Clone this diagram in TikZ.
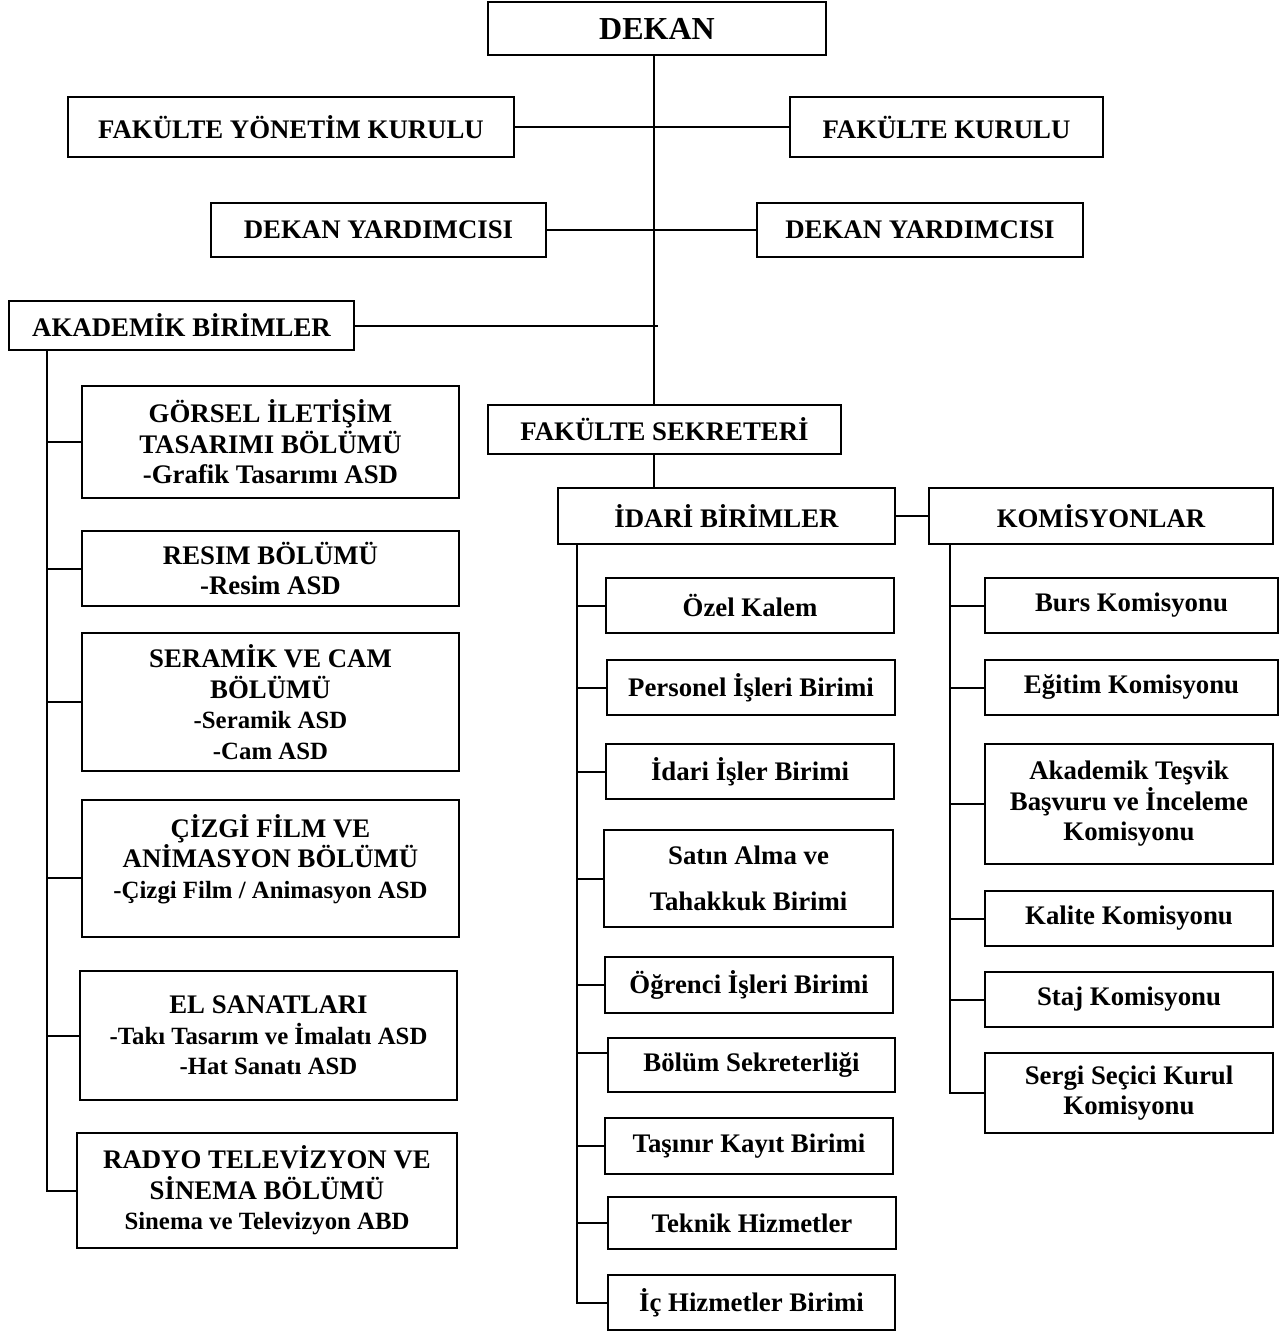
\documentclass[tikz,border=0pt]{standalone}
\usepackage{fontspec}
\setmainfont{Liberation Serif}
\usepackage{tikz}
\usetikzlibrary{positioning}
\tikzset
{
    unitbox/.style = {rectangle, draw=black, align=center, inner sep=0pt, anchor=north west, font=\bfseries\fontsize{26.8}{30.5}\selectfont},
    boxsize/.style 2 args = {minimum width=#1pt, minimum height=#2pt}
}
\newcommand{\subfont}{\fontsize{24.8}{30.5}\selectfont}

\begin{document}
\begin{tikzpicture}[x=1pt, y=-1pt, line width=2pt]
\useasboundingbox (0,0) rectangle (1288,1331);
% top of the tree
\node [unitbox, boxsize={338}{53}, font=\bfseries\fontsize{32}{36}\selectfont] at (487,1) (dekan) {DEKAN};
\node [unitbox, boxsize={446}{60}] at (67,96) (fyk) {FAKÜLTE YÖNETİM KURULU};
\node [unitbox, boxsize={313}{60}] at (789,96) (fk) {FAKÜLTE KURULU};
\node [unitbox, boxsize={335}{54}] at (210,202) (dy1) {DEKAN YARDIMCISI};
\node [unitbox, boxsize={326}{54}] at (756,202) (dy2) {DEKAN YARDIMCISI};
\node [unitbox, boxsize={345}{49}] at (8,300) (akademik) {AKADEMİK BİRİMLER};
\node [unitbox, boxsize={353}{49}] at (487,404) (sekreter) {FAKÜLTE SEKRETERİ};
\node [unitbox, boxsize={337}{56}] at (557,487) (idari) {İDARİ BİRİMLER};
\node [unitbox, boxsize={344}{56}] at (928,487) (komisyon) {KOMİSYONLAR};
\coordinate (sp) at (654,0);
\coordinate (aksp) at (47,0);
\coordinate (idsp) at (577,0);
\coordinate (kmsp) at (950,0);
% akademik birimler
\node [unitbox, boxsize={377}{112}] at (81,385) (gorsel) {GÖRSEL İLETİŞİM\\TASARIMI BÖLÜMÜ\\-Grafik Tasarımı ASD};
\node [unitbox, boxsize={377}{75}] at (81,530) (resim) {RESIM BÖLÜMÜ\\-Resim ASD};
\node [unitbox, boxsize={377}{138}] at (81,632) (seramik) {SERAMİK VE CAM\\BÖLÜMÜ\\{\subfont -Seramik ASD}\\{\subfont -Cam ASD}};
\node [unitbox, boxsize={377}{137}] at (81,799) (cizgi) {ÇİZGİ FİLM VE\\ANİMASYON BÖLÜMÜ\\{\subfont -Çizgi Film / Animasyon ASD}\\[-6pt]\mbox{}};
\node [unitbox, boxsize={377}{129}] at (79,970) (elsanat) {EL SANATLARI\\{\subfont -Takı Tasarım ve İmalatı ASD}\\{\subfont -Hat Sanatı ASD}};
\node [unitbox, boxsize={380}{115}] at (76,1132) (radyo) {RADYO TELEVİZYON VE\\SİNEMA BÖLÜMÜ\\{\subfont Sinema ve Televizyon ABD}};
% idari birimler
\node [unitbox, boxsize={288}{55}] at (605,577) (ozel) {Özel Kalem};
\node [unitbox, boxsize={288}{55}] at (606,659) (personel) {Personel İşleri Birimi};
\node [unitbox, boxsize={288}{55}] at (605,743) (idisler) {İdari İşler Birimi};
\node [unitbox, boxsize={289}{97}] at (603,829) (satin) {Satın Alma ve\\[15pt]Tahakkuk Birimi};
\node [unitbox, boxsize={288}{56}] at (604,956) (ogrenci) {Öğrenci İşleri Birimi};
\node [unitbox, boxsize={287}{54}] at (607,1037) (bolum) {Bölüm Sekreterliği};
\node [unitbox, boxsize={288}{56}] at (604,1117) (tasinir) {Taşınır Kayıt Birimi};
\node [unitbox, boxsize={288}{52}] at (607,1196) (teknik) {Teknik Hizmetler};
\node [unitbox, boxsize={287}{55}] at (607,1274) (ichiz) {İç Hizmetler Birimi};
% komisyonlar
\node [unitbox, boxsize={293}{55}] at (984,577) (burs) {Burs Komisyonu};
\node [unitbox, boxsize={293}{55}] at (984,659) (egitim) {Eğitim Komisyonu};
\node [unitbox, boxsize={288}{120}] at (984,743) (tesvik) {Akademik Teşvik\\Başvuru ve İnceleme\\Komisyonu};
\node [unitbox, boxsize={288}{55}] at (984,890) (kalite) {Kalite Komisyonu};
\node [unitbox, boxsize={288}{55}] at (984,971) (staj) {Staj Komisyonu};
\node [unitbox, boxsize={288}{80}] at (984,1052) (sergi) {Sergi Seçici Kurul\\Komisyonu};
% main lines
\draw (dekan.south -| sp) -- (sekreter.north -| sp);
\draw (fyk.east) -- (fk.west);
\draw (dy1.east) -- (dy2.west);
\draw (akademik.east) -- ([xshift=4pt]akademik.east -| sp);
\draw (sekreter.south -| sp) -- (idari.north -| sp);
\draw (idari.east) -- (komisyon.west);
% akademik branch
\draw (akademik.south -| aksp) |- (radyo.west);
\draw (gorsel.west -| aksp) -- (gorsel.west);
\draw (resim.west -| aksp) -- (resim.west);
\draw (seramik.west -| aksp) -- (seramik.west);
\draw ([yshift=-9pt]cizgi.west -| aksp) -- ([yshift=-9pt]cizgi.west);
\draw (elsanat.west -| aksp) -- (elsanat.west);
% idari branch
\draw (idari.south -| idsp) |- (ichiz.west);
\draw (ozel.west -| idsp) -- (ozel.west);
\draw (personel.west -| idsp) -- (personel.west);
\draw (idisler.west -| idsp) -- (idisler.west);
\draw (satin.west -| idsp) -- (satin.west);
\draw (ogrenci.west -| idsp) -- (ogrenci.west);
\draw ([yshift=12pt]bolum.west -| idsp) -- ([yshift=12pt]bolum.west);
\draw (tasinir.west -| idsp) -- (tasinir.west);
\draw (teknik.west -| idsp) -- (teknik.west);
% komisyon branch
\draw (komisyon.south -| kmsp) |- (sergi.west);
\draw (burs.west -| kmsp) -- (burs.west);
\draw (egitim.west -| kmsp) -- (egitim.west);
\draw (tesvik.west -| kmsp) -- (tesvik.west);
\draw (kalite.west -| kmsp) -- (kalite.west);
\draw (staj.west -| kmsp) -- (staj.west);
\end{tikzpicture}
\end{document}
